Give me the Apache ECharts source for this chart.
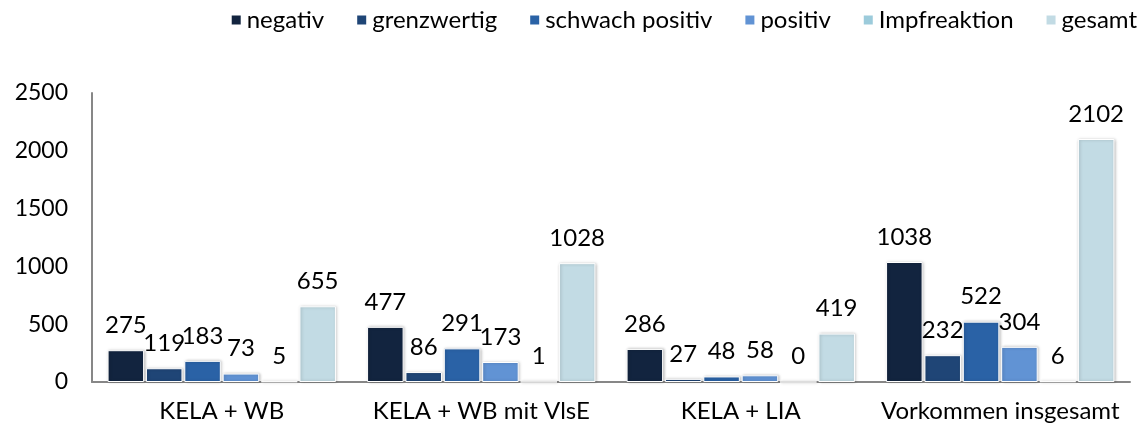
<!DOCTYPE html>
<html>
<head>
<meta charset="utf-8">
<script src="https://cdn.jsdelivr.net/npm/echarts@6/dist/echarts.min.js"></script>
<style>
  html, body { margin: 0; padding: 0; background: #fff; }
  #chart { width: 1148px; height: 434px; }
</style>
</head>
<body>
<div id="chart"></div>
<script>
const categories = ['KELA + WB', 'KELA + WB mit VlsE', 'KELA + LIA', 'Vorkommen insgesamt'];
const seriesNames = ['negativ', 'grenzwertig', 'schwach positiv', 'positiv', 'Impfreaktion', 'gesamt'];
const negativ = [275, 477, 286, 1038];
const grenzwertig = [119, 86, 27, 232];
const schwachPositiv = [183, 291, 48, 522];
const positiv = [73, 173, 58, 304];
const impfreaktion = [5, 1, 0, 6];
const gesamt = [655, 1028, 419, 2102];
const yTicks = { min: 0, max: 2500, interval: 500 };

const colors = ['#12243f', '#1f4576', '#2a62a6', '#6193d4', '#9ccbdb', '#c2dbe4'];
const values = [negativ, grenzwertig, schwachPositiv, positiv, impfreaktion, gesamt];
const font = 'Lato, "Liberation Sans", sans-serif';

const chart = echarts.init(document.getElementById('chart'));

chart.setOption({
    color: colors,
    textStyle: { fontFamily: font },
    legend: {
        top: 3,
        right: 6,
        itemWidth: 11,
        itemHeight: 11,
        itemGap: 31,
        icon: 'rect',
        textStyle: { fontSize: 24, color: '#000', fontFamily: font },
        data: seriesNames
    },
    grid: { left: 92, right: 18, top: 93, bottom: 52 },
    xAxis: {
        type: 'category',
        data: categories,
        axisLine: { lineStyle: { color: '#878787', width: 2 } },
        axisTick: { show: false },
        axisLabel: { interval: 0, fontSize: 24, color: '#000', margin: 17, fontFamily: font }
    },
    yAxis: {
        type: 'value',
        min: yTicks.min,
        max: yTicks.max,
        interval: yTicks.interval,
        axisLine: { show: true, lineStyle: { color: '#878787', width: 2 } },
        axisTick: { show: false },
        splitLine: { show: false },
        axisLabel: {
            fontSize: 23, color: '#000', margin: 24, fontFamily: font,
            formatter: v => String(v)
        }
    },
    series: seriesNames.map((name, i) => ({
        name: name,
        type: 'bar',
        data: values[i],
        barGap: '5%',
        barCategoryGap: '12%',
        itemStyle: {
            borderColor: '#fff',
            borderWidth: 1,
            shadowColor: 'rgba(0,0,0,0.25)',
            shadowBlur: 3,
            shadowOffsetX: 1,
            shadowOffsetY: 0
        },
        label: {
            show: true,
            position: 'top',
            distance: 13,
            fontSize: 24,
            color: '#000',
            fontFamily: font
        }
    }))
});
</script>
</body>
</html>
